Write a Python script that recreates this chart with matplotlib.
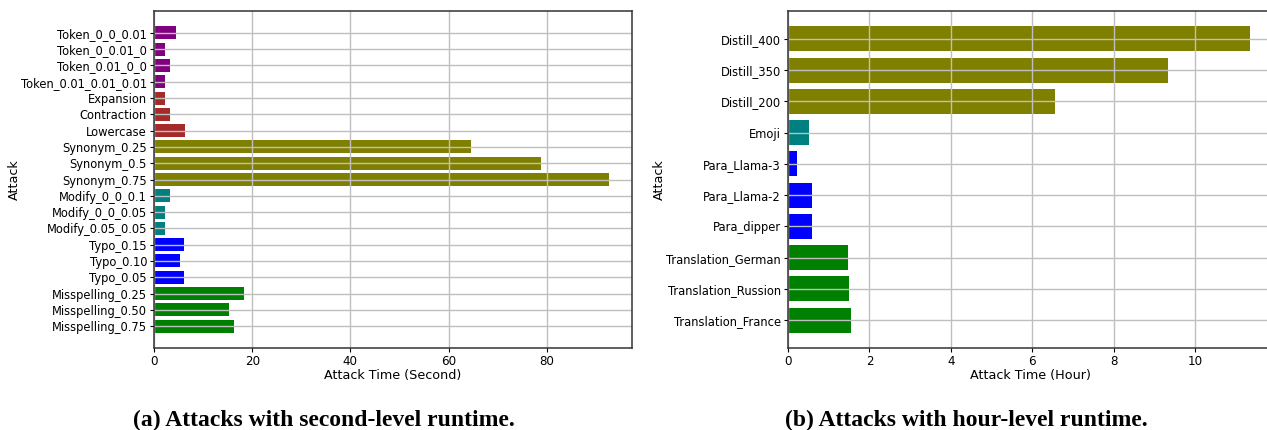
import matplotlib
matplotlib.use('Agg')
import matplotlib.pyplot as plt

# (a) second-level attacks, listed top to bottom
sec_attacks = ['Token_0_0_0.01', 'Token_0_0.01_0', 'Token_0.01_0_0', 'Token_0.01_0.01_0.01',
               'Expansion', 'Contraction', 'Lowercase',
               'Synonym_0.25', 'Synonym_0.5', 'Synonym_0.75',
               'Modify_0_0_0.1', 'Modify_0_0_0.05', 'Modify_0.05_0.05',
               'Typo_0.15', 'Typo_0.10', 'Typo_0.05',
               'Misspelling_0.25', 'Misspelling_0.50', 'Misspelling_0.75']
sec_times = [4.5, 2.2, 3.2, 2.2,
             2.2, 3.2, 6.3,
             64.5, 78.8, 92.7,
             3.2, 2.2, 2.2,
             6.2, 5.2, 6.2,
             18.3, 15.3, 16.3]
sec_colors = ['purple'] * 4 + ['brown'] * 3 + ['olive'] * 3 + ['teal'] * 3 + ['blue'] * 3 + ['green'] * 3

# (b) hour-level attacks
hour_attacks = ['Distill_400', 'Distill_350', 'Distill_200', 'Emoji',
                'Para_Llama-3', 'Para_Llama-2', 'Para_dipper',
                'Translation_German', 'Translation_Russion', 'Translation_France']
hour_times = [11.34, 9.33, 6.56, 0.51, 0.22, 0.6, 0.6, 1.47, 1.5, 1.55]
hour_colors = ['olive'] * 3 + ['teal'] + ['blue'] * 3 + ['green'] * 3

fig = plt.figure(figsize=(12.67, 4.30), dpi=100)
W, H = 1267, 430

ax1 = fig.add_axes([154 / W, 82 / H, 478 / W, 337 / H])
ax2 = fig.add_axes([788 / W, 82 / H, 485 / W, 337 / H])

for ax, names, vals, cols, xl in [(ax1, sec_attacks, sec_times, sec_colors, 'Attack Time (Second)'),
                                  (ax2, hour_attacks, hour_times, hour_colors, 'Attack Time (Hour)')]:
    ax.barh(names[::-1], vals[::-1], color=cols[::-1])
    ax.grid(True, color='#bfbfbf', linewidth=1)
    ax.set_xlabel(xl, fontsize=9.2, labelpad=1)
    ax.set_ylabel('Attack', fontsize=9.2)
    ax.tick_params(axis='y', labelsize=8.3, length=3, pad=2)
    ax.tick_params(axis='x', labelsize=8.6, length=3, pad=2)
    for s in ax.spines.values():
        s.set_color('#333333')
        s.set_linewidth(1.1)

ax1.yaxis.set_label_coords((21 - 154) / 478, 0.5)
ax2.yaxis.set_label_coords((666 - 788) / 485, 0.5)

fig.text(324 / W, 4 / H, '(a) Attacks with second-level runtime.', ha='center', va='baseline',
         family='Liberation Serif', weight='bold', fontsize=17)
fig.text(966 / W, 4 / H, '(b) Attacks with hour-level runtime.', ha='center', va='baseline',
         family='Liberation Serif', weight='bold', fontsize=17)

fig.savefig('out.png', dpi=100)
